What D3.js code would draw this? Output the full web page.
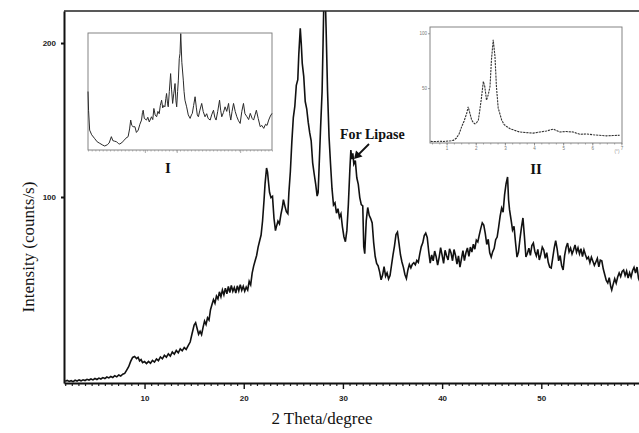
<!DOCTYPE html>
<html><head><meta charset="utf-8">
<script src="https://cdn.jsdelivr.net/npm/d3@7"></script>
<style>html,body{margin:0;padding:0;background:#fff;} svg{display:block;}</style>
</head><body>
<svg id="c" width="639" height="433"></svg>
<script>
// Main XRD scan: [2theta (deg), intensity (counts/s)]
const mainScan = [
[2.0,-19.6],[2.2,-19.1],[2.4,-19.8],[2.6,-19.3],[2.8,-19.9],[3.0,-19.0],[3.2,-19.5],[3.4,-18.8],[3.6,-19.4],[3.8,-18.7],
[4.0,-19.2],[4.2,-18.4],[4.4,-18.9],[4.6,-18.2],[4.8,-18.8],[5.0,-17.9],[5.2,-18.5],[5.4,-17.6],[5.6,-18.2],[5.8,-17.3],
[6.0,-17.9],[6.2,-16.9],[6.4,-17.5],[6.6,-16.6],[6.8,-17.2],[7.0,-16.1],[7.2,-16.8],[7.4,-15.6],[7.6,-16.3],[7.8,-15.1],
[8.0,-14.6],[8.2,-12.4],[8.4,-10.2],[8.6,-6.8],[8.8,-4.2],[9.0,-3.6],[9.2,-5.0],[9.35,-4.1],[9.5,-6.4],[9.65,-5.6],
[9.8,-7.6],[10.0,-6.9],[10.2,-8.2],[10.4,-6.8],[10.6,-8.0],[10.8,-6.1],[11.0,-7.2],[11.2,-5.2],[11.4,-6.3],[11.6,-3.9],
[11.8,-5.1],[12.0,-2.8],[12.2,-4.0],[12.4,-1.9],[12.6,-3.3],[12.8,-0.6],[13.0,-2.1],[13.2,0.3],[13.4,-1.2],[13.6,1.4],
[13.8,0.1],[14.0,2.2],[14.2,1.0],[14.4,3.4],[14.6,5.8],[14.8,11.5],[15.0,16.9],[15.15,18.4],[15.3,14.6],[15.45,10.9],
[15.6,12.8],[15.75,10.6],[15.9,15.3],[16.05,19.4],[16.2,17.2],[16.35,21.6],[16.5,20.1],[16.65,26.8],[16.8,30.2],[16.95,33.4],
[17.1,31.0],[17.25,35.6],[17.4,33.8],[17.55,38.4],[17.7,35.2],[17.85,39.6],[18.0,36.4],[18.15,40.8],[18.3,37.1],[18.45,41.9],
[18.6,38.0],[18.75,42.6],[18.9,38.7],[19.05,41.2],[19.2,37.6],[19.35,42.3],[19.5,39.0],[19.65,43.1],[19.8,39.4],[19.95,42.0],
[20.1,38.8],[20.25,41.5],[20.4,39.6],[20.55,45.2],[20.7,43.0],[20.85,50.6],[21.0,55.1],[21.15,58.6],[21.3,62.0],[21.45,67.5],
[21.6,71.4],[21.75,75.3],[21.9,84.6],[22.05,98.2],[22.15,108.5],[22.3,118.8],[22.4,116.2],[22.5,109.4],[22.6,103.1],[22.75,99.6],
[22.9,100.4],[23.05,86.2],[23.2,78.2],[23.3,80.9],[23.45,84.3],[23.6,82.6],[23.75,88.7],[23.9,93.5],[24.0,98.3],[24.15,94.1],
[24.3,90.5],[24.45,89.2],[24.55,102.6],[24.7,116.4],[24.85,135.8],[25.0,151.6],[25.15,158.8],[25.3,172.5],[25.45,176.2],[25.55,192.4],
[25.7,209.5],[25.8,199.6],[25.9,186.8],[26.05,178.4],[26.2,162.0],[26.35,157.3],[26.5,148.6],[26.65,141.8],[26.8,136.5],[26.95,122.2],
[27.1,115.1],[27.25,108.6],[27.4,100.6],[27.5,102.8],[27.6,119.6],[27.75,145.2],[27.9,168.4],[28.0,200.5],[28.1,235],[28.2,235],
[28.3,210.6],[28.45,168.8],[28.6,139.2],[28.75,121.6],[28.9,105.4],[29.05,94.8],[29.2,96.2],[29.35,89.5],[29.5,92.4],[29.65,86.8],
[29.8,89.1],[29.95,80.6],[30.1,74.2],[30.25,71.0],[30.4,78.3],[30.55,95.4],[30.7,117.8],[30.8,130.5],[30.9,124.6],[31.0,128.3],
[31.1,121.4],[31.25,123.6],[31.4,112.5],[31.55,108.2],[31.7,99.6],[31.85,95.1],[32.0,94.3],[32.1,67.8],[32.2,63.2],[32.35,84.5],
[32.5,93.2],[32.65,88.1],[32.8,86.0],[32.95,83.1],[33.1,70.4],[33.25,61.5],[33.4,56.9],[33.55,55.3],[33.7,51.4],[33.85,46.2],
[34.0,49.3],[34.15,54.8],[34.3,48.6],[34.45,50.7],[34.6,46.8],[34.75,49.0],[34.9,55.7],[35.05,62.4],[35.2,68.3],[35.35,75.6],
[35.5,77.2],[35.65,70.1],[35.8,62.5],[35.95,57.8],[36.1,54.3],[36.25,49.7],[36.4,47.1],[36.55,52.6],[36.7,56.2],[36.85,54.0],
[37.0,56.4],[37.15,57.3],[37.3,56.0],[37.45,58.8],[37.6,57.6],[37.75,63.1],[37.9,67.8],[38.05,70.2],[38.2,74.9],[38.35,76.5],
[38.5,73.7],[38.65,64.6],[38.8,57.0],[38.95,62.4],[39.1,58.5],[39.25,64.9],[39.4,61.2],[39.55,55.7],[39.7,60.8],[39.85,67.1],
[40.0,62.3],[40.15,56.9],[40.3,65.4],[40.45,61.8],[40.6,59.1],[40.75,66.3],[40.9,63.7],[41.05,58.6],[41.2,65.9],[41.35,62.0],
[41.5,56.4],[41.65,61.7],[41.8,54.5],[41.95,59.8],[42.1,65.2],[42.25,58.7],[42.4,63.8],[42.55,66.9],[42.7,61.4],[42.85,67.5],
[43.0,64.2],[43.15,69.3],[43.3,66.1],[43.45,72.0],[43.6,70.8],[43.75,75.4],[43.9,79.6],[44.05,83.2],[44.2,81.8],[44.35,76.4],
[44.5,69.2],[44.65,72.5],[44.8,63.8],[44.95,61.0],[45.1,64.5],[45.25,66.7],[45.4,72.3],[45.55,74.0],[45.7,80.5],[45.85,87.6],
[46.0,92.8],[46.15,90.1],[46.3,101.5],[46.45,108.6],[46.6,113.0],[46.7,98.2],[46.8,91.6],[46.95,85.3],[47.1,78.6],[47.25,80.9],
[47.4,70.5],[47.55,61.0],[47.7,64.2],[47.85,72.8],[48.0,80.2],[48.15,86.4],[48.3,74.3],[48.45,61.0],[48.6,63.5],[48.75,66.8],
[48.9,62.1],[49.05,68.5],[49.2,70.1],[49.35,64.6],[49.5,61.8],[49.65,66.0],[49.8,59.1],[49.95,62.7],[50.1,67.4],[50.25,65.6],
[50.4,60.2],[50.55,63.8],[50.7,57.6],[50.85,54.4],[51.0,53.9],[51.15,60.3],[51.3,66.8],[51.45,71.6],[51.6,66.2],[51.75,58.5],
[51.9,62.0],[52.05,55.4],[52.2,52.6],[52.35,61.9],[52.5,67.3],[52.65,70.1],[52.8,64.4],[52.95,66.8],[53.1,63.0],[53.25,65.6],
[53.4,68.9],[53.55,64.2],[53.7,67.0],[53.85,63.1],[54.0,66.4],[54.15,61.3],[54.3,65.7],[54.45,62.5],[54.6,59.8],[54.75,61.0],
[54.9,57.4],[55.05,60.9],[55.2,58.3],[55.35,55.6],[55.5,57.8],[55.65,60.1],[55.8,54.6],[55.95,59.0],[56.1,58.6],[56.25,53.2],
[56.4,49.5],[56.55,45.8],[56.7,44.2],[56.85,47.6],[57.0,41.8],[57.1,39.6],[57.25,43.4],[57.4,46.9],[57.55,44.1],[57.7,48.0],
[57.85,50.7],[58.0,48.3],[58.15,51.6],[58.3,52.6],[58.45,49.0],[58.6,51.9],[58.75,47.4],[58.9,50.8],[59.05,48.0],[59.2,52.1],
[59.35,54.3],[59.5,50.6],[59.65,54.5],[59.8,47.2],[59.95,44.8],[60.1,46.5]
];
const xTicksMain = [10, 20, 30, 40, 50];
const yTicksMain = [100, 200];

// Inset I: [relative position, relative intensity]
const insetIScan = [
[0,50],[0.3,34],[0.9,17],[2,13],[3.5,10],[5,7],[6.4,5.7],[8,4.2],[9.1,3.4],[10.5,4.5],[11.5,6],[12.7,11.4],[13.5,8],[14.5,7.5],
[15.5,7.1],[16.5,5.5],[17.3,5.1],[18.5,6.5],[19.5,8],[20.5,10],[21.8,11.4],[22.6,18],[23.2,25.6],[23.8,21],[24.5,19.9],[25.5,19.9],
[26.3,15],[27.3,17],[28.2,22],[29.1,25.6],[29.6,32],[30,34],[30.6,27],[31.8,25.6],[32.5,28],[33.3,24],[34.5,28.4],[35.2,26],
[35.8,35.5],[36.5,30],[37.3,28.4],[38,33],[38.7,31],[39.3,38],[40,42.6],[40.6,36],[41.2,38],[41.8,36.9],[42.3,44],[42.7,48.3],
[43.2,40],[43.6,36.9],[44.2,50],[44.9,65.3],[45.4,52],[46,39.8],[46.6,48],[47.3,56.8],[47.8,42],[48.2,36.9],[48.7,50],[49.1,59.7],
[49.6,78],[50,82.4],[50.4,99.4],[51,75],[51.8,59.7],[52.2,50],[52.7,42.6],[53.6,36.9],[54.5,30],[55.5,27],[56.2,30],[56.7,31.3],
[57.4,38],[58.2,45.5],[58.9,36],[59.4,30],[60,28.4],[60.8,34],[61.8,39.8],[62.6,33],[63.6,28.4],[64.5,31],[65.3,27],[66.4,25.6],
[67.2,30],[68.2,34],[68.9,28],[69.6,25.6],[70.5,33],[71.5,42.6],[72.1,34],[72.7,28.4],[73.6,32],[74.5,36.9],[75.4,33],[76.4,39.8],
[77,31],[77.6,25.6],[78.3,33],[79.1,39.8],[80,33],[80.9,28.4],[81.8,25],[82.7,22.7],[83.6,33],[84.5,39.8],[85.3,31],[86.4,28.4],
[87.3,26],[88.2,31.3],[89.2,27],[90,25.6],[90.8,30],[91.5,34],[92.5,27],[93.6,19.9],[94.5,21],[95.5,18.5],[96.5,22],[97.3,21],
[98.2,25.6],[99.1,29],[100,31.3]
];
const insetIMajorTicks = [30.9, 48.2, 82.7];

// Inset II: [x, intensity]
const insetIIScan = [
[0.45,1.5],[0.6,1.3],[0.77,1.6],[0.9,1.4],[1.06,1.8],[1.15,2.0],[1.23,2.4],[1.34,4.5],[1.43,8.5],[1.52,15],[1.6,20],
[1.69,27],[1.74,33],[1.8,27],[1.86,21],[1.92,18.5],[1.97,17.5],[2.03,18.5],[2.09,21],[2.14,30],[2.2,42],[2.26,56],[2.31,51.5],
[2.37,39],[2.43,44],[2.49,51.5],[2.54,76],[2.6,94],[2.66,79],[2.71,51.5],[2.77,32],[2.89,21],[2.97,17],[3.06,15],[3.18,13],
[3.29,12],[3.4,11],[3.51,10],[3.7,9.5],[3.97,9],[4.2,10],[4.43,11],[4.55,11.8],[4.66,12.7],[4.71,12],[4.89,10],[5.1,10.5],
[5.34,10],[5.45,9],[5.57,8],[5.8,8.2],[6.03,7.5],[6.25,7],[6.49,6.5],[6.7,6.8],[6.94,7]
];
const insetIIXTicks = [1, 2, 3, 4, 5, 6, 7];
const insetIIYTicks = [50, 100];

const annotationText = "For Lipase";
const insetLabels = ["I", "II"];

const svg = d3.select("#c");
const x = d3.scaleLinear().domain([1.88, 59.85]).range([64, 639]);
const y = d3.scaleLinear().domain([-20.8, 220.8]).range([383, 11]);

svg.append("defs").append("clipPath").attr("id","clip")
  .append("rect").attr("x",64).attr("y",11).attr("width",580).attr("height",372);

// main curve
svg.append("path").datum(mainScan)
  .attr("clip-path","url(#clip)")
  .attr("fill","none").attr("stroke","#111").attr("stroke-width",1.6)
  .attr("stroke-linejoin","miter")
  .attr("d", d3.line().x(d=>x(d[0])).y(d=>y(d[1])));

// top frame line
svg.append("line").attr("x1",64).attr("x2",639).attr("y1",11).attr("y2",11)
  .attr("stroke","#222").attr("stroke-width",1.5);

// minor x ticks
const minorVals = d3.range(-12, 76).map(i => 10 + i*10/15)
  .filter(v => v > 1.9 && v < 59.8 && Math.abs(v/10 - Math.round(v/10)) > 0.01);
svg.append("g").attr("transform","translate(0,383)")
  .call(d3.axisBottom(x).tickValues(minorVals).tickSize(3).tickFormat(""))
  .call(g => g.select(".domain").remove())
  .call(g => g.selectAll("line").attr("stroke","#222").attr("stroke-width",1.2));

// major x axis
const xAxis = svg.append("g").attr("transform","translate(0,383)")
  .call(d3.axisBottom(x).tickValues(xTicksMain).tickSize(6).tickSizeOuter(0).tickPadding(6).tickFormat(d3.format("d")));
xAxis.select(".domain").attr("stroke","#111").attr("stroke-width",2);
xAxis.selectAll(".tick line").attr("stroke","#111").attr("stroke-width",1.4);
xAxis.selectAll("text").attr("font-family","Liberation Sans, Arial, sans-serif")
  .attr("font-weight","bold").attr("font-size",8).attr("fill","#222");

// y axis
const yAxis = svg.append("g").attr("transform","translate(64,0)")
  .call(d3.axisLeft(y).tickValues(yTicksMain).tickSize(3).tickSizeOuter(0).tickPadding(5).tickFormat(d3.format("d")));
yAxis.select(".domain").attr("stroke","#111").attr("stroke-width",2);
yAxis.selectAll(".tick line").attr("stroke","#111").attr("stroke-width",2);
yAxis.selectAll("text").attr("font-family","Liberation Sans, Arial, sans-serif")
  .attr("font-weight","bold").attr("font-size",8).attr("fill","#222");

// axis titles
svg.append("text").attr("x",322).attr("y",424).attr("text-anchor","middle")
  .attr("font-family","Liberation Serif, Times New Roman, serif").attr("font-size",17).attr("fill","#111")
  .text("2 Theta/degree");
svg.append("text").attr("transform","translate(34,247) rotate(-90)").attr("text-anchor","middle")
  .attr("font-family","Liberation Serif, Times New Roman, serif").attr("font-size",17).attr("fill","#111")
  .text("Intensity (counts/s)");

// annotation
svg.append("text").attr("x",340).attr("y",139)
  .attr("font-family","Liberation Serif, Times New Roman, serif").attr("font-weight","bold")
  .attr("font-size",14).attr("fill","#111").text(annotationText);
svg.append("line").attr("x1",369).attr("y1",144).attr("x2",358).attr("y2",155)
  .attr("stroke","#111").attr("stroke-width",1.8);
svg.append("path").attr("d","M354,159 L356,150.5 L362.5,156.5 Z").attr("fill","#111");

// ---- Inset I ----
const xI = d3.scaleLinear().domain([0,100]).range([88,272]);
const yI = d3.scaleLinear().domain([0,100]).range([150,33]);
const gI = svg.append("g");
gI.append("rect").attr("x",88).attr("y",33).attr("width",184).attr("height",117)
  .attr("fill","none").attr("stroke","#777").attr("stroke-width",0.9);
gI.append("g").attr("transform","translate(0,150)")
  .call(d3.axisBottom(xI).tickValues(d3.range(0,101,2)).tickSize(1.5).tickFormat(""))
  .call(g => g.select(".domain").remove())
  .call(g => g.selectAll("line").attr("stroke","#888").attr("stroke-width",0.6));
gI.append("g").attr("transform","translate(0,150)")
  .call(d3.axisBottom(xI).tickValues(insetIMajorTicks).tickSize(3).tickFormat(""))
  .call(g => g.select(".domain").remove())
  .call(g => g.selectAll("line").attr("stroke","#888").attr("stroke-width",0.7));
gI.append("path").datum(insetIScan)
  .attr("fill","none").attr("stroke","#2a2a2a").attr("stroke-width",1)
  .attr("d", d3.line().x(d=>xI(d[0])).y(d=>yI(d[1])));
gI.append("text").attr("x",168).attr("y",173).attr("text-anchor","middle")
  .attr("font-family","Liberation Serif, Times New Roman, serif").attr("font-weight","bold")
  .attr("font-size",15).attr("fill","#111").text(insetLabels[0]);

// ---- Inset II ----
const xII = d3.scaleLinear().domain([0.43,7.02]).range([430,622]);
const yII = d3.scaleLinear().domain([0,105.7]).range([143,27]);
const gII = svg.append("g");
gII.append("rect").attr("x",430).attr("y",27).attr("width",192).attr("height",116)
  .attr("fill","none").attr("stroke","#777").attr("stroke-width",0.9);
gII.append("g").attr("transform","translate(0,143)")
  .call(d3.axisBottom(xII).tickValues(d3.range(0.5,7.01,0.25)).tickSize(1.5).tickFormat(""))
  .call(g => g.select(".domain").remove())
  .call(g => g.selectAll("line").attr("stroke","#777").attr("stroke-width",0.6));
const ax2 = gII.append("g").attr("transform","translate(0,143)")
  .call(d3.axisBottom(xII).tickValues(insetIIXTicks).tickSize(2.5).tickPadding(1.5).tickFormat(d3.format("d")));
ax2.select(".domain").remove();
ax2.selectAll("line").attr("stroke","#777").attr("stroke-width",0.7);
ax2.selectAll("text").attr("font-size",4.5).attr("fill","#777").attr("font-family","Liberation Sans, Arial, sans-serif");
const ay2 = gII.append("g").attr("transform","translate(430,0)")
  .call(d3.axisLeft(yII).tickValues(insetIIYTicks).tickSize(2).tickPadding(1).tickFormat(d3.format("d")));
ay2.select(".domain").remove();
ay2.selectAll("line").attr("stroke","#777").attr("stroke-width",0.7);
ay2.selectAll("text").attr("font-size",4.5).attr("fill","#777").attr("font-family","Liberation Sans, Arial, sans-serif");
gII.append("text").attr("x",617).attr("y",153).attr("text-anchor","middle")
  .attr("font-size",4.5).attr("fill","#888").attr("font-family","Liberation Sans, Arial, sans-serif").text("(°)");
gII.append("path").datum(insetIIScan)
  .attr("fill","none").attr("stroke","#333").attr("stroke-width",1.1).attr("stroke-dasharray","2.2,0.9")
  .attr("d", d3.line().x(d=>xII(d[0])).y(d=>yII(d[1])));
gII.append("text").attr("x",536).attr("y",174).attr("text-anchor","middle")
  .attr("font-family","Liberation Serif, Times New Roman, serif").attr("font-weight","bold")
  .attr("font-size",15).attr("fill","#111").text(insetLabels[1]);
</script>
</body></html>
